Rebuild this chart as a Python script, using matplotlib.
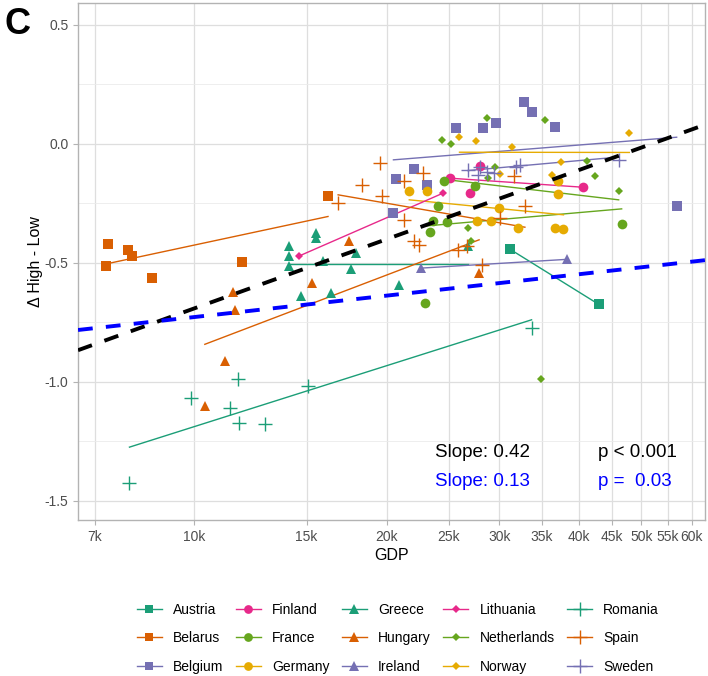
import numpy as np
import matplotlib.pyplot as plt
from matplotlib.lines import Line2D
from matplotlib.ticker import FixedLocator, FuncFormatter, MultipleLocator, NullLocator

plt.rcParams['font.family'] = ['Liberation Sans', 'DejaVu Sans']

# GDP in thousands, delta (High - Low)
austria_gdp = [31.2, 42.9]
austria_delta = [-0.443, -0.674]
belarus_gdp = [7.33, 7.89, 8.01, 7.3, 8.61, 11.87, 16.2]
belarus_delta = [-0.42, -0.445, -0.469, -0.513, -0.565, -0.497, -0.218]
belgium_gdp = [25.7, 28.3, 29.7, 32.8, 33.8, 36.6, 22.1, 20.7, 23.1, 20.5, 56.8]
belgium_delta = [0.066, 0.066, 0.087, 0.178, 0.136, 0.069, -0.105, -0.147, -0.172, -0.291, -0.263]
finland_gdp = [25.1, 28.0, 27.0, 40.5]
finland_delta = [-0.144, -0.091, -0.205, -0.182]
france_gdp = [23.0, 24.6, 27.5, 24.1, 23.6, 24.9, 23.4, 46.6]
france_delta = [-0.669, -0.158, -0.176, -0.263, -0.326, -0.33, -0.372, -0.336]
germany_gdp = [21.7, 23.1, 30.0, 27.7, 29.1, 32.1, 37.1, 37.1, 36.6, 37.8]
germany_delta = [-0.2, -0.196, -0.268, -0.326, -0.322, -0.352, -0.211, -0.155, -0.352, -0.359]
greece_gdp = [15.5, 15.5, 14.1, 14.1, 14.1, 15.9, 17.9, 17.6, 14.7, 16.4, 20.9, 26.8]
greece_delta = [-0.375, -0.396, -0.429, -0.473, -0.513, -0.494, -0.459, -0.525, -0.639, -0.627, -0.592, -0.431]
hungary_gdp = [17.5, 15.3, 11.5, 11.6, 11.2, 10.4, 27.9]
hungary_delta = [-0.41, -0.585, -0.623, -0.697, -0.914, -1.10, -0.543]
ireland_gdp = [22.6, 38.3]
ireland_delta = [-0.522, -0.485]
lithuania_gdp = [14.6, 24.5]
lithuania_delta = [-0.471, -0.207]
netherlands_gdp = [24.4, 25.2, 28.7, 35.4, 29.5, 28.8, 26.8, 27.1, 41.1, 42.3, 46.1, 34.8]
netherlands_delta = [0.017, -0.001, 0.108, 0.101, -0.095, -0.144, -0.352, -0.41, -0.071, -0.134, -0.2, -0.986]
norway_gdp = [26.0, 27.6, 31.4, 30.1, 36.3, 37.4, 47.9]
norway_delta = [0.031, 0.013, -0.015, -0.126, -0.13, -0.077, 0.045]
romania_gdp = [7.93, 9.9, 11.4, 11.75, 12.9, 11.7, 15.1, 33.7]
romania_delta = [-1.426, -1.069, -1.108, -1.171, -1.178, -0.989, -1.017, -0.772]
spain_gdp = [19.5, 18.3, 19.7, 16.8, 22.8, 21.3, 31.6, 32.9, 30.1, 21.3, 22.1, 22.5, 25.9, 26.7, 28.2]
spain_delta = [-0.081, -0.172, -0.218, -0.249, -0.123, -0.158, -0.137, -0.263, -0.312, -0.319,
               -0.41, -0.424, -0.445, -0.427, -0.508]
sweden_gdp = [26.8, 28.0, 27.8, 28.7, 29.4, 31.9, 32.3, 46.2]
sweden_delta = [-0.109, -0.095, -0.13, -0.116, -0.123, -0.095, -0.09, -0.067]

countries = ['Austria', 'Belarus', 'Belgium', 'Finland', 'France', 'Germany', 'Greece', 'Hungary',
             'Ireland', 'Lithuania', 'Netherlands', 'Norway', 'Romania', 'Spain', 'Sweden']
# per-country fitted line, value at the lowest and highest GDP of that country
fit_low = [-0.443, -0.504, -0.067, -0.144, -0.345, -0.235, -0.504, -0.842,
           -0.522, -0.471, -0.148, -0.035, -1.274, -0.214, -0.112]
fit_high = [-0.674, -0.305, 0.028, -0.182, -0.273, -0.298, -0.504, -0.403,
            -0.485, -0.207, -0.235, -0.036, -0.739, -0.350, -0.055]

# pooled regressions against ln(GDP)
pooled_slope = [0.42, 0.13]
pooled_intercept = [-4.56, -1.925]
pooled_color = ['black', '#0000FF']
slope_text = ['Slope: 0.42', 'Slope: 0.13']
p_text = ['p < 0.001', 'p =  0.03']

gdp_ticks = [7, 10, 15, 20, 25, 30, 35, 40, 45, 50, 55, 60]

gdp = [austria_gdp, belarus_gdp, belgium_gdp, finland_gdp, france_gdp, germany_gdp, greece_gdp,
       hungary_gdp, ireland_gdp, lithuania_gdp, netherlands_gdp, norway_gdp, romania_gdp,
       spain_gdp, sweden_gdp]
delta = [austria_delta, belarus_delta, belgium_delta, finland_delta, france_delta, germany_delta,
         greece_delta, hungary_delta, ireland_delta, lithuania_delta, netherlands_delta,
         norway_delta, romania_delta, spain_delta, sweden_delta]

dark2 = ['#1B9E77', '#D95F02', '#7570B3', '#E7298A', '#66A61E', '#E6AB02']
colors = [dark2[0], dark2[1], dark2[2], dark2[3], dark2[4], dark2[5],
          dark2[0], dark2[1], dark2[2], dark2[3], dark2[4], dark2[5],
          dark2[0], dark2[1], dark2[2]]
markers = ['s', 's', 's', 'o', 'o', 'o', '^', '^', '^', 'D', 'D', 'D', '+', '+', '+']
msizes = {'s': 6.5, 'o': 7, '^': 7.5, 'D': 4.5, '+': 10.5}

fig = plt.figure(figsize=(7.08, 6.76), dpi=100)
ax = fig.add_axes([0.1102, 0.2308, 0.8856, 0.7648])

for i, name in enumerate(countries):
    g = np.array(gdp[i]) * 1000
    ax.plot([g.min(), g.max()], [fit_low[i], fit_high[i]], color=colors[i], lw=1.0, zorder=2)
    ax.plot(g, delta[i], linestyle='none', marker=markers[i], color=colors[i],
            markersize=msizes[markers[i]], markeredgewidth=1.0 if markers[i] == '+' else 0,
            zorder=3)

xlim = (6590, 62900)
xx = np.geomspace(xlim[0], xlim[1], 200)
for s, b, c in zip(pooled_slope, pooled_intercept, pooled_color):
    ax.plot(xx, b + s * np.log(xx), color=c, lw=2.8, dashes=(3.8, 3.4), zorder=4)

ax.set_xscale('log')
ax.set_xlim(*xlim)
ax.set_ylim(-1.58, 0.592)
ax.xaxis.set_major_locator(FixedLocator([t * 1000 for t in gdp_ticks]))
ax.xaxis.set_minor_locator(NullLocator())
ax.xaxis.set_major_formatter(FuncFormatter(lambda v, p: f'{v / 1000:.0f}k'))
ax.yaxis.set_major_locator(MultipleLocator(0.5))
ax.yaxis.set_minor_locator(MultipleLocator(0.25))
ax.yaxis.set_major_formatter(FuncFormatter(lambda v, p: f'{v:.1f}'))

ax.grid(True, which='major', color='#DEDEDE', lw=0.9, zorder=0)
ax.grid(True, which='minor', axis='y', color='#EBEBEB', lw=0.6, zorder=0)
ax.set_axisbelow(True)
for sp in ax.spines.values():
    sp.set_color('#B3B3B3')
    sp.set_linewidth(1.0)
ax.tick_params(which='major', colors='#B3B3B3', labelcolor='#4D4D4D', labelsize=10, length=3.5)
ax.tick_params(which='minor', length=0)

ax.set_xlabel('GDP', fontsize=11.5, labelpad=3)
ax.set_ylabel('Δ High - Low', fontsize=11.5, labelpad=1)

for k in range(2):
    ax.text(0.569, 0.13 - k * 0.055, slope_text[k], transform=ax.transAxes, fontsize=13.5,
            color=pooled_color[k], va='center', ha='left')
    ax.text(0.829, 0.13 - k * 0.055, p_text[k], transform=ax.transAxes, fontsize=13.5,
            color=pooled_color[k], va='center', ha='left')

fig.text(0.006, 0.99, 'C', fontsize=26, fontweight='bold', va='top', ha='left')

handles = [Line2D([], [], color=colors[i], marker=markers[i], markersize=msizes[markers[i]] * 0.9,
                  markeredgewidth=1.0 if markers[i] == '+' else 0, lw=1.0)
           for i in range(len(countries))]
fig.legend(handles, countries, ncol=5, loc='center', bbox_to_anchor=(0.562, 0.056),
           frameon=False, fontsize=10, handlelength=1.8, columnspacing=0.9, labelspacing=1.05,
           handletextpad=0.8)

fig.savefig('out.png', dpi=100)
